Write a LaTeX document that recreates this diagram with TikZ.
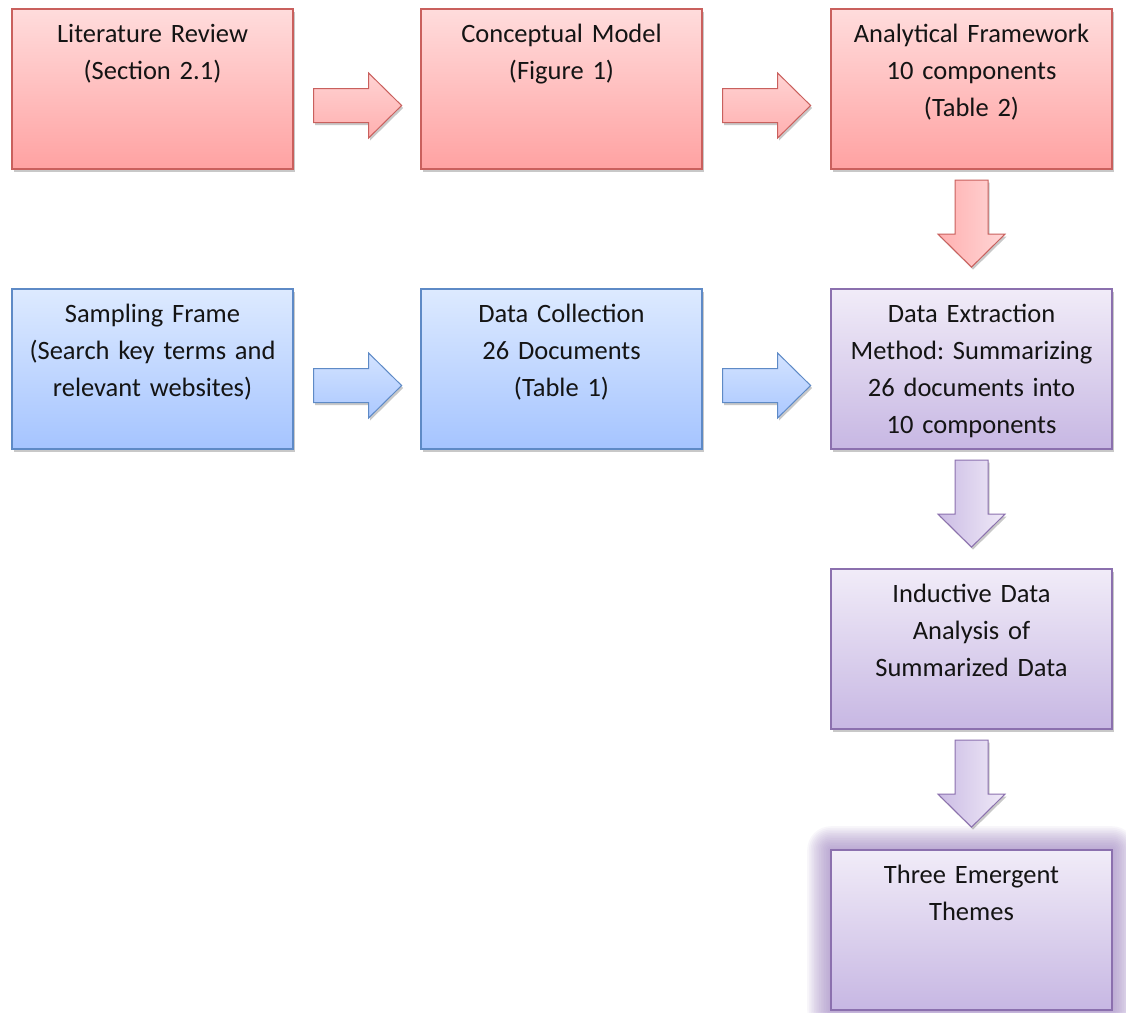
\documentclass[tikz,border=0pt]{standalone}
\usepackage{fontspec}
\setmainfont{Carlito}
\usetikzlibrary{shadows}
\definecolor{redtop}{HTML}{FFDCDC}
\definecolor{redbot}{HTML}{FFA2A2}
\definecolor{redline}{HTML}{C9605D}
\definecolor{bluetop}{HTML}{DDEAFF}
\definecolor{bluebot}{HTML}{A5C4FF}
\definecolor{blueline}{HTML}{5E8AC6}
\definecolor{purtop}{HTML}{F1ECF8}
\definecolor{purbot}{HTML}{C7B7E3}
\definecolor{purline}{HTML}{8B70AE}
\definecolor{glowcol}{HTML}{9C80C0}
\definecolor{txtcol}{HTML}{141414}
\definecolor{rharrowtop}{HTML}{FFD3D3}
\definecolor{rharrowbot}{HTML}{FFAFAF}
\definecolor{bharrowtop}{HTML}{D3E3FF}
\definecolor{bharrowbot}{HTML}{ABC8FF}
\definecolor{rvarrowl}{HTML}{FFB0B0}
\definecolor{rvarrowr}{HTML}{FFD6D6}
\definecolor{pvarrowl}{HTML}{CBBCE4}
\definecolor{pvarrowr}{HTML}{F0EAF8}
\newcommand\hblock[2]{%
  \path[#1, shift={(#2.east)}] (20,-0.5) -- (75,-0.5) -- (75,-16) -- (108,16.5)
    -- (75,49) -- (75,33.5) -- (20,33.5) -- cycle;}
\newcommand\vblock[2]{%
  \path[#1, shift={(#2.south)}] (-16.5,10.5) -- (-16.5,64.5) -- (-33.5,64.5) -- (0,97.5)
    -- (33.5,64.5) -- (16.5,64.5) -- (16.5,10.5) -- cycle;}
\frenchspacing
\begin{document}
\begin{tikzpicture}[x=1pt,y=-1pt,
  shad/.style={drop shadow={shadow xshift=1.5pt, shadow yshift=-2.5pt, opacity=0.3, fill=black!70}},
  box/.style={draw, line width=1.2pt, minimum width=281pt, minimum height=160pt, inner sep=0pt},
  redbox/.style={box, shad, draw=redline, top color=redtop, bottom color=redbot},
  bluebox/.style={box, shad, draw=blueline, top color=bluetop, bottom color=bluebot},
  purbox/.style={box, shad, draw=purline, top color=purtop, bottom color=purbot},
  txt/.style={text width=278pt, align=center, anchor=base, inner sep=0pt,
    font=\fontsize{26.5}{37}\selectfont, text=txtcol},
  redharrow/.style={shad, draw=redline, line width=1pt, top color=rharrowtop, bottom color=rharrowbot},
  blueharrow/.style={shad, draw=blueline, line width=1pt, top color=bharrowtop, bottom color=bharrowbot},
  redvarrow/.style={shad, draw=redline, line width=1pt, left color=rvarrowl, right color=rvarrowr},
  purvarrow/.style={shad, draw=purline, line width=1pt, left color=pvarrowl, right color=pvarrowr},
]
\useasboundingbox[fill=white] (0,0) rectangle (1126,1012);

% row 1
\node[redbox] (lit) at (152.5,89) {};
\node[redbox] (con) at (561.5,89) {};
\node[redbox] (fw)  at (971.5,89) {};
% row 2
\node[bluebox] (sam) at (152.5,369) {};
\node[bluebox] (col) at (561.5,369) {};
\node[purbox]  (ext) at (971.5,369) {};
% column
\node[purbox] (ind) at (971.5,649) {};
% glow for last box
\foreach \s in {1.7,3.4,...,24} {
  \fill[glowcol, opacity=0.065, rounded corners=\s pt]
    ([xshift=-\s pt, yshift=\s pt]831,850) rectangle ([xshift=\s pt, yshift=-\s pt]1112,1010);
}
\node[box, draw=purline, top color=purtop, bottom color=purbot] (th) at (971.5,930) {};

% texts
\node[txt] (tlit) at ([yshift=-34pt]lit.north) {Literature Review\\(Section 2.1)};
\node[txt] (tcon) at ([yshift=-34pt]con.north) {Conceptual Model\\(Figure 1)};
\node[txt] (tfw)  at ([yshift=-34pt]fw.north)  {Analytical Framework\\10 components\\(Table 2)};
\node[txt] (tsam) at ([yshift=-34pt]sam.north) {Sampling Frame\\(Search key terms and\\relevant websites)};
\node[txt] (tcol) at ([yshift=-34pt]col.north) {Data Collection\\26 Documents\\(Table 1)};
\node[txt] (text) at ([yshift=-34pt]ext.north) {Data Extraction\\Method: Summarizing\\26 documents into\\10 components};
\node[txt] (tind) at ([yshift=-34pt]ind.north) {Inductive Data\\Analysis of\\Summarized Data};
\node[txt] (tth)  at ([yshift=-34pt]th.north)  {Three Emergent\\Themes};

% block arrows
\hblock{redharrow}{lit}
\hblock{redharrow}{con}
\hblock{blueharrow}{sam}
\hblock{blueharrow}{col}
\vblock{redvarrow}{fw}
\vblock{purvarrow}{ext}
\vblock{purvarrow}{ind}
\end{tikzpicture}
\end{document}
